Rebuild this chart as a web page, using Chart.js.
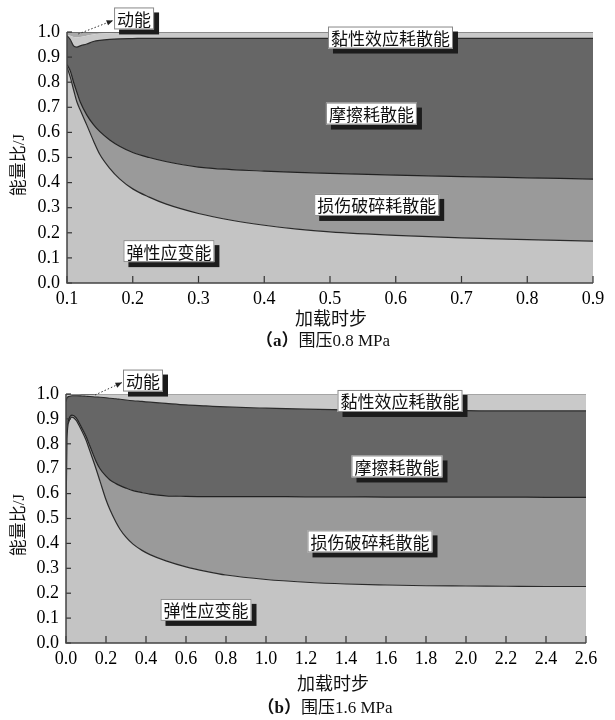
<!DOCTYPE html>
<html lang="zh">
<head>
<meta charset="utf-8"/>
<title>能量比 - 加载时步</title>
<script src="https://cdn.jsdelivr.net/npm/chart.js"></script>
<style>
  body { margin: 0; background: #fff; }
  .panel { position: absolute; left: 0; }
</style>
</head>
<body>
<div class="panel" style="top:0"><canvas id="chartA" width="615" height="350"></canvas></div>
<div class="panel" style="top:350px"><canvas id="chartB" width="615" height="370"></canvas></div>
<script>
  // 每条曲线是对应能量带的上边界（累计能量比）
  // (a) 围压0.8 MPa
  const stepA     = [0.1, 0.105, 0.11, 0.115, 0.12, 0.13, 0.14, 0.15, 0.165, 0.18, 0.2, 0.225, 0.25, 0.3, 0.35, 0.4, 0.45, 0.5, 0.6, 0.7, 0.8, 0.9];
  const elasticA  = [0.86, 0.82, 0.77, 0.722, 0.69, 0.63, 0.568, 0.512, 0.457, 0.415, 0.375, 0.342, 0.315, 0.277, 0.25, 0.23, 0.215, 0.204, 0.19, 0.18, 0.173, 0.167];
  const damageA   = [0.87, 0.845, 0.8, 0.76, 0.722, 0.67, 0.632, 0.603, 0.57, 0.545, 0.52, 0.5, 0.484, 0.462, 0.452, 0.446, 0.441, 0.437, 0.43, 0.424, 0.419, 0.414];
  const frictionA = [0.985, 0.97, 0.945, 0.94, 0.945, 0.952, 0.962, 0.967, 0.971, 0.973, 0.974, 0.975, 0.975, 0.975, 0.975, 0.975, 0.975, 0.975, 0.975, 0.975, 0.975, 0.975];
  const viscousA  = [0.99, 0.985, 0.98, 0.978, 0.98, 0.985, 0.99, 0.993, 0.995, 0.996, 0.997, 0.997, 0.997, 0.997, 0.997, 0.997, 0.997, 0.997, 0.997, 0.997, 0.997, 0.997];
  const kineticA  = [1.0, 1.0, 1.0, 1.0, 1.0, 1.0, 1.0, 1.0, 1.0, 1.0, 1.0, 1.0, 1.0, 1.0, 1.0, 1.0, 1.0, 1.0, 1.0, 1.0, 1.0, 1.0];
  const xTicksA   = [0.1, 0.2, 0.3, 0.4, 0.5, 0.6, 0.7, 0.8, 0.9];

  // (b) 围压1.6 MPa
  const stepB     = [0, 0.005, 0.015, 0.03, 0.05, 0.08, 0.1, 0.12, 0.15, 0.17, 0.2, 0.22, 0.25, 0.27, 0.3, 0.335, 0.38, 0.42, 0.5, 0.6, 0.7, 0.8, 1.0, 1.2, 1.4, 1.6, 1.8, 2.0, 2.2, 2.4, 2.6];
  const elasticB  = [0.5, 0.82, 0.89, 0.907, 0.895, 0.85, 0.815, 0.77, 0.7, 0.65, 0.575, 0.535, 0.485, 0.457, 0.425, 0.397, 0.372, 0.355, 0.33, 0.306, 0.288, 0.273, 0.255, 0.244, 0.237, 0.233, 0.23, 0.229, 0.228, 0.227, 0.227];
  const damageB   = [0.5, 0.83, 0.9, 0.915, 0.905, 0.862, 0.83, 0.79, 0.73, 0.7, 0.67, 0.655, 0.64, 0.632, 0.622, 0.612, 0.604, 0.598, 0.591, 0.589, 0.588, 0.588, 0.588, 0.587, 0.587, 0.586, 0.586, 0.586, 0.586, 0.585, 0.585];
  const frictionB = [0.97, 0.985, 0.99, 0.993, 0.993, 0.992, 0.991, 0.99, 0.988, 0.987, 0.985, 0.983, 0.981, 0.979, 0.976, 0.973, 0.97, 0.967, 0.962, 0.956, 0.952, 0.948, 0.943, 0.939, 0.936, 0.935, 0.934, 0.933, 0.932, 0.932, 0.932];
  const viscousB  = [0.99, 0.995, 0.996, 0.997, 0.997, 0.996, 0.996, 0.996, 0.997, 0.998, 0.998, 0.998, 0.998, 0.998, 0.998, 0.998, 0.998, 0.998, 0.998, 0.998, 0.998, 0.998, 0.998, 0.998, 0.998, 0.998, 0.998, 0.998, 0.998, 0.998, 0.998];
  const kineticB  = [1.0, 1.0, 1.0, 1.0, 1.0, 1.0, 1.0, 1.0, 1.0, 1.0, 1.0, 1.0, 1.0, 1.0, 1.0, 1.0, 1.0, 1.0, 1.0, 1.0, 1.0, 1.0, 1.0, 1.0, 1.0, 1.0, 1.0, 1.0, 1.0, 1.0, 1.0];
  const xTicksB   = [0, 0.2, 0.4, 0.6, 0.8, 1.0, 1.2, 1.4, 1.6, 1.8, 2.0, 2.2, 2.4, 2.6];

  const yTicks = [0, 0.1, 0.2, 0.3, 0.4, 0.5, 0.6, 0.7, 0.8, 0.9, 1.0];

  const serif = '"Liberation Serif", "Noto Sans CJK SC", serif';
  const cjk = '"Noto Sans CJK SC", sans-serif';

  function pts(xs, ys) { return xs.map((v, i) => ({ x: v, y: ys[i] })); }

  function band(data, color, line, fill) {
    return {
      data: data, fill: fill, backgroundColor: color,
      borderColor: line, borderWidth: line ? 1.2 : 0,
      pointRadius: 0, cubicInterpolationMode: 'monotone'
    };
  }

  // 标注框、箭头、坐标轴标题
  const deco = {
    id: 'deco',
    afterDatasetsDraw(chart, args, o) {
      const { ctx, chartArea: a, scales: { x, y } } = chart;
      ctx.save();
      ctx.strokeStyle = '#333';
      ctx.lineWidth = 1.2;
      x.ticks.forEach(t => {
        const px = x.getPixelForValue(t.value);
        ctx.beginPath(); ctx.moveTo(px, a.bottom); ctx.lineTo(px, a.bottom - 7); ctx.stroke();
      });
      y.ticks.forEach(t => {
        const py = y.getPixelForValue(t.value);
        ctx.beginPath(); ctx.moveTo(a.left, py); ctx.lineTo(a.left + 5, py); ctx.stroke();
      });
      ctx.lineWidth = 1.5;
      ctx.strokeStyle = '#444';
      ctx.beginPath();
      ctx.moveTo(a.left, a.top); ctx.lineTo(a.left, a.bottom); ctx.lineTo(a.right, a.bottom);
      ctx.stroke();
      ctx.restore();
    },
    afterDraw(chart, args, o) {
      const { ctx, scales: { x, y } } = chart;
      ctx.save();
      ctx.font = '17px ' + cjk;
      ctx.textBaseline = 'middle';
      ctx.textAlign = 'center';
      o.labels.forEach(l => {
        const cx = x.getPixelForValue(l.x), cy = y.getPixelForValue(l.y);
        const w = ctx.measureText(l.text).width + 6, h = 22;
        const left = cx - w / 2, top = cy - h / 2;
        ctx.fillStyle = '#1c1c1c';
        ctx.fillRect(left + 5, top + 5, w, h);
        ctx.fillStyle = '#fff';
        ctx.fillRect(left, top, w, h);
        ctx.strokeStyle = '#888';
        ctx.lineWidth = 1;
        ctx.strokeRect(left + 0.5, top + 0.5, w - 1, h - 1);
        ctx.fillStyle = '#111';
        ctx.fillText(l.text, cx, cy + 1);
        if (l.from) {
          const fx = x.getPixelForValue(l.from[0]), fy = y.getPixelForValue(l.from[1]);
          const tx = left - 1, ty = cy + 2;
          ctx.strokeStyle = '#333';
          ctx.setLineDash([1.5, 2]);
          ctx.beginPath(); ctx.moveTo(fx, fy); ctx.lineTo(tx, ty); ctx.stroke();
          ctx.setLineDash([]);
          const ang = Math.atan2(ty - fy, tx - fx);
          ctx.fillStyle = '#222';
          ctx.beginPath();
          ctx.moveTo(tx, ty);
          ctx.lineTo(tx - 7 * Math.cos(ang - 0.4), ty - 7 * Math.sin(ang - 0.4));
          ctx.lineTo(tx - 7 * Math.cos(ang + 0.4), ty - 7 * Math.sin(ang + 0.4));
          ctx.closePath(); ctx.fill();
        }
      });
      // 坐标轴标题
      ctx.fillStyle = '#111';
      ctx.font = '18px ' + cjk;
      ctx.fillText('加载时步', o.xTitle[0], o.xTitle[1]);
      ctx.save();
      ctx.translate(o.yTitle[0], o.yTitle[1]);
      ctx.rotate(-Math.PI / 2);
      ctx.font = '17px ' + serif;
      ctx.fillText('能量比/J', 0, 0);
      ctx.restore();
      // 图注
      ctx.font = 'bold 17px ' + serif;
      const w1 = ctx.measureText(o.caption[0]).width;
      ctx.font = '17px ' + serif;
      const w2 = ctx.measureText(o.caption[1]).width;
      const sx = o.captionPos[0] - (w1 + w2) / 2;
      ctx.textAlign = 'left';
      ctx.font = 'bold 17px ' + serif;
      ctx.fillText(o.caption[0], sx, o.captionPos[1]);
      ctx.font = '17px ' + serif;
      ctx.fillText(o.caption[1], sx + w1, o.captionPos[1]);
      ctx.restore();
    }
  };

  function makeChart(id, steps, curves, xTicks, xmin, xmax, pad, yWidth, xHeight, deco_opts) {
    const colors = ['#c4c4c4', '#9a9a9a', '#666666', '#c9c9c9', '#aaaaaa'];
    const lines = ['#2a2a2a', '#222', '#2a2a2a', null, '#333'];
    const datasets = curves.map((c, i) => band(pts(steps, c), colors[i], lines[i], i === 0 ? 'origin' : '-1'));
    return new Chart(document.getElementById(id), {
      type: 'line',
      data: { datasets: datasets },
      options: {
        responsive: false,
        animation: false,
        layout: { padding: pad },
        plugins: { legend: { display: false }, tooltip: { enabled: false }, deco: deco_opts },
        scales: {
          x: {
            type: 'linear', min: xmin, max: xmax,
            grid: { display: false, drawTicks: false },
            border: { display: false },
            afterBuildTicks: s => { s.ticks = xTicks.map(v => ({ value: v })); },
            afterFit: s => { s.height = xHeight; },
            ticks: {
              autoSkip: false, maxRotation: 0, padding: 5, color: '#000',
              font: { family: serif, size: 18 },
              callback: v => Number(v).toFixed(1)
            }
          },
          y: {
            min: 0, max: 1,
            grid: { display: false, drawTicks: false },
            border: { display: false },
            afterBuildTicks: s => { s.ticks = yTicks.map(v => ({ value: v })); },
            afterFit: s => { s.width = yWidth; },
            ticks: {
              padding: 7, color: '#000',
              font: { family: serif, size: 18 },
              callback: v => Number(v).toFixed(1)
            }
          }
        }
      },
      plugins: [deco]
    });
  }

  makeChart('chartA', stepA, [elasticA, damageA, frictionA, viscousA, kineticA], xTicksA, 0.1, 0.9,
    { top: 32, right: 22, left: 0, bottom: 0 }, 67, 67, {
      labels: [
        { text: '动能', x: 0.202, y: 1.054, from: [0.117, 0.992] },
        { text: '黏性效应耗散能', x: 0.592, y: 0.978 },
        { text: '摩擦耗散能', x: 0.563, y: 0.675 },
        { text: '损伤破碎耗散能', x: 0.571, y: 0.311 },
        { text: '弹性应变能', x: 0.255, y: 0.127 }
      ],
      xTitle: [331, 318], yTitle: [20, 165],
      caption: ['（a）', '围压0.8 MPa'], captionPos: [323, 342]
    });

  makeChart('chartB', stepB, [elasticB, damageB, frictionB, viscousB, kineticB], xTicksB, 0, 2.6,
    { top: 44, right: 29, left: 0, bottom: 0 }, 66, 77, {
      labels: [
        { text: '动能', x: 0.385, y: 1.054, from: [0.145, 0.996] },
        { text: '黏性效应耗散能', x: 1.67, y: 0.972 },
        { text: '摩擦耗散能', x: 1.655, y: 0.709 },
        { text: '损伤破碎耗散能', x: 1.52, y: 0.408 },
        { text: '弹性应变能', x: 0.70, y: 0.133 }
      ],
      xTitle: [333, 333], yTitle: [20, 175],
      caption: ['（b）', '围压1.6 MPa'], captionPos: [325, 359]
    });
</script>
</body>
</html>
